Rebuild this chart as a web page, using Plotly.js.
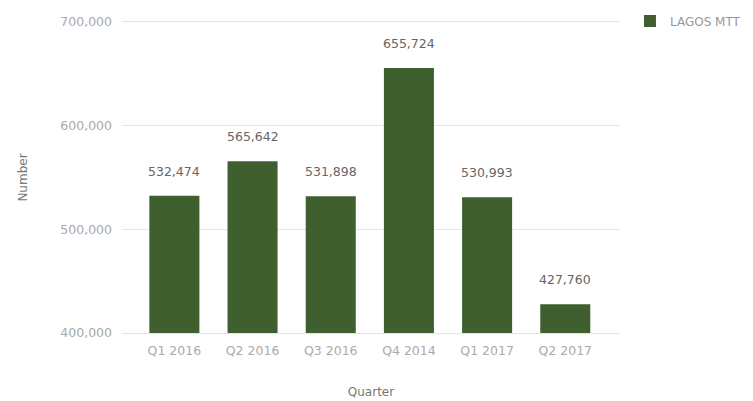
<!DOCTYPE html>
<html>
<head>
<meta charset="utf-8">
<script src="https://cdn.plot.ly/plotly-3.0.1.min.js"></script>
<style>html,body{margin:0;padding:0;background:#fff;}#chart{width:753px;height:401px;}</style>
</head>
<body>
<div id="chart"></div>
<script>
var categories = ["Q1 2016", "Q2 2016", "Q3 2016", "Q4 2014", "Q1 2017", "Q2 2017"];
var values = [532474, 565642, 531898, 655724, 530993, 427760];
var seriesName = "LAGOS MTT";
var yTickVals = [400000, 500000, 600000, 700000];
var yTickText = ["400,000", "500,000", "600,000", "700,000"];

var FONT = "DejaVu Sans, Arial, sans-serif";
var fmt = function (v) { return v.toString().replace(/\B(?=(\d{3})+(?!\d))/g, ","); };

var trace = {
  type: "bar",
  x: categories,
  y: values,
  name: seriesName,
  marker: { color: "#3f5f2f" },
  hoverinfo: "x+y"
};

var annotations = categories.map(function (c, i) {
  return {
    x: c, y: values[i], text: fmt(values[i]),
    showarrow: false, yanchor: "bottom", yshift: 15,
    font: { family: FONT, size: 12.5, color: "#666" }
  };
});

var layout = {
  width: 753, height: 401,
  margin: { l: 122, r: 133, t: 22, b: 68, autoexpand: false },
  paper_bgcolor: "#fff", plot_bgcolor: "#fff",
  bargap: 0.36,
  showlegend: true,
  legend: {
    x: 1.02, y: 1.05, xanchor: "left", yanchor: "top",
    font: { family: FONT, size: 12, color: "#999" }
  },
  xaxis: {
    type: "category",
    range: [-0.67, 5.7],
    showgrid: false, zeroline: false,
    showline: true, mirror: true, linecolor: "#e3e3e3", linewidth: 1,
    ticks: "",
    ticklabelstandoff: 6,
    tickfont: { family: FONT, size: 12.5, color: "#aaa" },
    title: { text: "Quarter", font: { family: FONT, size: 12, color: "#777" }, standoff: 30 }
  },
  yaxis: {
    range: [400000, 700000],
    tickvals: yTickVals, ticktext: yTickText,
    showgrid: true, gridcolor: "#e6e6e6", gridwidth: 1,
    zeroline: false, showline: false, ticks: "",
    ticklabelstandoff: 9,
    tickfont: { family: FONT, size: 12.5, color: "#aaa" },
    title: { text: "Number", font: { family: FONT, size: 12, color: "#777" }, standoff: 30 }
  },
  annotations: annotations
};

Plotly.newPlot("chart", [trace], layout, { displayModeBar: false, staticPlot: true });
</script>
</body>
</html>
